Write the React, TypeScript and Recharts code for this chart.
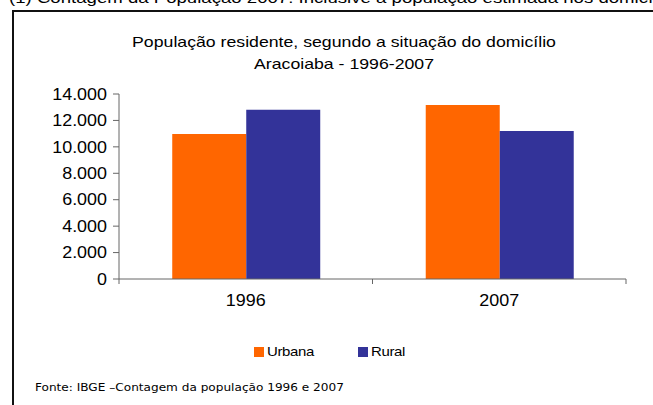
import React from 'react';
import { BarChart, Bar, XAxis, YAxis } from 'recharts';

const categories = ['1996', '2007'];
const urbanaValues = [10980, 13170];
const ruralValues = [12800, 11200];
const yTicks = [0, 2000, 4000, 6000, 8000, 10000, 12000, 14000];
const seriesNames = ['Urbana', 'Rural'];
const seriesColors = ['#FF6600', '#333399'];
const titleLines = ['População residente, segundo a situação do domicílio', 'Aracoiaba - 1996-2007'];
const topNote = '(1) Contagem da População 2007: Inclusive a população estimada nos domicílios fechados';
const sourceNote = 'Fonte: IBGE –Contagem da população 1996 e 2007';

const data = categories.map((c, i) => ({
  year: c,
  [seriesNames[0]]: urbanaValues[i],
  [seriesNames[1]]: ruralValues[i],
}));

const W = 653;
const H = 405;
const MARGIN = { top: 94, right: 27, bottom: 96, left: 0 };
const Y_W = 119;
const PLOT_W = W - MARGIN.left - Y_W - MARGIN.right;
const BAND = PLOT_W / categories.length;
const AXIS = '#666';
const FONT = '"Liberation Sans", Arial, sans-serif';

const fmt = (n: number) => String(n).replace(/\B(?=(\d{3})+(?!\d))/g, '.');

const YTick = (props: any) => {
  const { x, y, payload } = props;
  return (
    <text
      x={x}
      y={y}
      dy="0.36em"
      textAnchor="end"
      fontFamily={FONT}
      fontSize={16}
      fill="#000"
      transform={`translate(${x},0) scale(1.12,1) translate(${-x},0)`}
    >
      {fmt(payload.value)}
    </text>
  );
};

const XTick = (props: any) => {
  const { x, y, payload } = props;
  return (
    <g>
      <line x1={x - BAND / 2} x2={x - BAND / 2} y1={y} y2={y + 5} stroke={AXIS} />
      <line x1={x + BAND / 2} x2={x + BAND / 2} y1={y} y2={y + 5} stroke={AXIS} />
      <text
        x={x}
        y={y + 27}
        textAnchor="middle"
        fontFamily={FONT}
        fontSize={16}
        fill="#000"
        transform={`translate(${x},0) scale(1.12,1) translate(${-x},0)`}
      >
        {payload.value}
      </text>
    </g>
  );
};

export default function App() {
  return (
    <div
      style={{
        position: 'absolute',
        left: 0,
        top: 0,
        width: W,
        height: H,
        overflow: 'hidden',
        background: '#fff',
        fontFamily: FONT,
      }}
    >
      <div
        style={{
          position: 'absolute',
          left: 9,
          top: -10,
          fontSize: 15,
          lineHeight: '15px',
          whiteSpace: 'nowrap',
          transform: 'scaleX(1.24)',
          transformOrigin: '0 0',
          color: '#000',
        }}
      >
        {topNote}
      </div>
      <div
        style={{
          position: 'absolute',
          left: 12,
          top: 10,
          width: 800,
          height: 600,
          borderLeft: '2px solid #111',
          borderTop: '2px solid #111',
        }}
      />
      {titleLines.map((t, i) => (
        <div
          key={i}
          style={{
            position: 'absolute',
            left: 344,
            top: 35 + i * 22,
            fontSize: 14.5,
            lineHeight: '14.5px',
            whiteSpace: 'nowrap',
            transform: 'translateX(-50%) scaleX(1.22)',
            color: '#000',
          }}
        >
          {t}
        </div>
      ))}
      <div style={{ position: 'absolute', left: 0, top: 0 }}>
        <BarChart width={W} height={H} data={data} margin={MARGIN} barCategoryGap="21%" barGap={0}>
          <XAxis
            dataKey="year"
            height={30}
            tickSize={0}
            tickMargin={0}
            tick={<XTick />}
            axisLine={{ stroke: AXIS }}
            tickLine={false}
          />
          <YAxis
            width={Y_W}
            domain={[0, 14000]}
            ticks={yTicks}
            interval={0}
            tickSize={6}
            tickMargin={6}
            tick={<YTick />}
            axisLine={{ stroke: AXIS }}
            tickLine={{ stroke: AXIS }}
          />
          {seriesNames.map((s, i) => (
            <Bar key={s} dataKey={s} fill={seriesColors[i]} isAnimationActive={false} />
          ))}
        </BarChart>
      </div>
      <div style={{ position: 'absolute', left: 254, top: 343, display: 'flex', alignItems: 'center' }}>
        {seriesNames.map((s, i) => (
          <div key={s} style={{ display: 'flex', alignItems: 'center', width: i === 0 ? 104 : 60 }}>
            <div style={{ width: 10, height: 10, background: seriesColors[i], marginRight: 3 }} />
            <span
              style={{
                fontSize: 13,
                lineHeight: '17px',
                letterSpacing: -0.3,
                display: 'inline-block',
                transform: 'scaleX(1.15)',
                transformOrigin: '0 50%',
                color: '#000',
              }}
            >
              {s}
            </span>
          </div>
        ))}
      </div>
      <div
        style={{
          position: 'absolute',
          left: 35,
          top: 381,
          fontFamily: '"DejaVu Sans", sans-serif',
          fontSize: 11,
          lineHeight: '13px',
          whiteSpace: 'nowrap',
          transform: 'scaleX(1.1)',
          transformOrigin: '0 0',
          color: '#000',
        }}
      >
        {sourceNote}
      </div>
    </div>
  );
}
